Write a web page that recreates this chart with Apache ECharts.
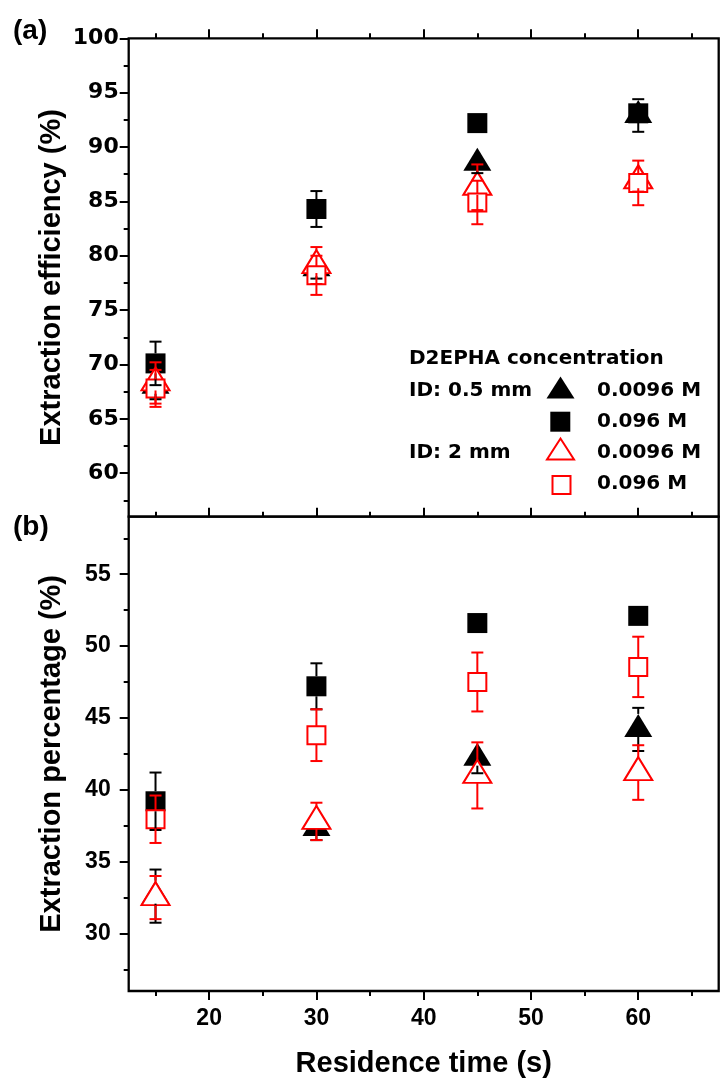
<!DOCTYPE html>
<html>
<head>
<meta charset="utf-8">
<script src="https://cdn.jsdelivr.net/npm/echarts@6/dist/echarts.min.js"></script>
<style>
	html, body { margin: 0; padding: 0; background: #fff; }
	#chart { width: 720px; height: 1079px; }
</style>
</head>
<body>
<div id="chart"></div>
<script>
	var times = [15, 30, 45, 60];

	// (a) extraction efficiency (%)
	var effTriSmall = [68.0, 78.8, 88.5, 92.9];
	var effTriSmallErr = [1.2, 0.9, 0.9, 1.5];
	var effSqSmall = [70.1, 84.3, 92.2, 93.1];
	var effSqSmallErr = [2.0, 1.65, 0.3, 0.3];
	var effTriLarge = [68.3, 79.1, 86.3, 86.9];
	var effTriLargeErr = [1.9, 1.7, 2.1, 1.0];
	var effSqLarge = [67.8, 78.2, 84.9, 86.7];
	var effSqLargeErr = [1.7, 1.8, 2.0, 2.05];

	// (b) extraction percentage (%)
	var pctTriSmall = [32.6, 37.3, 42.2, 44.2];
	var pctTriSmallErr = [1.85, 0.8, 1.05, 1.5];
	var pctSqSmall = [39.2, 47.2, 51.6, 52.1];
	var pctSqSmallErr = [2.0, 1.6, 0.3, 0.2];
	var pctTriLarge = [32.5, 37.8, 41.0, 41.2];
	var pctTriLargeErr = [1.5, 1.3, 2.3, 1.9];
	var pctSqLarge = [37.95, 43.8, 47.5, 48.55];
	var pctSqLargeErr = [1.65, 1.8, 2.05, 2.1];

	// ticks
	var xMajor = [20, 30, 40, 50, 60];
	var xMinor = [15, 25, 35, 45, 55, 65];
	var yMajorA = [60, 65, 70, 75, 80, 85, 90, 95, 100];
	var yMinorA = [57.5, 62.5, 67.5, 72.5, 77.5, 82.5, 87.5, 92.5, 97.5];
	var yMajorB = [30, 35, 40, 45, 50, 55];
	var yMinorB = [27.5, 32.5, 37.5, 42.5, 47.5, 52.5, 57.5];

	var FONT = '"Liberation Sans", Arial, sans-serif';
	var FONT_WIDE = '"DejaVu Sans", sans-serif';
	var TRI = [28, 23];

	function tickAxis(grid, pos, values, len, extra) {
		var ax = {
			type: 'value', gridIndex: grid, position: pos,
			axisLine: { show: false },
			splitLine: { show: false },
			axisTick: { show: true, inside: false, length: len, customValues: values, lineStyle: { color: '#000', width: 2 } },
			axisLabel: { show: false }
		};
		for (var k in extra) ax[k] = extra[k];
		return ax;
	}

	function markSeries(ys, xi, yi, shape, filled, color) {
		var tri = shape === 'triangle';
		return {
			type: 'scatter', xAxisIndex: xi, yAxisIndex: yi,
			symbol: tri ? 'triangle' : 'rect',
			symbolSize: tri ? TRI : (filled ? 20 : 18),
			symbolOffset: tri ? [0, -4] : [0, 0],
			itemStyle: filled ? { color: color, opacity: 1 } : { color: '#fff', borderColor: color, borderWidth: 2, opacity: 1 },
			data: times.map(function(t, i) { return [t, ys[i]]; }),
			z: 2, silent: true, emphasis: { disabled: true }
		};
	}

	//error bars, with a gap where the own symbol is
	function errSeries(ys, es, xi, yi, color, gapUp, gapDown) {
		return {
			type: 'custom', xAxisIndex: xi, yAxisIndex: yi, z: 3, silent: true,
			data: times.map(function(t, i) { return [t, ys[i], es[i]]; }),
			encode: { x: 0, y: 1 },
			renderItem: function(params, api) {
				var x = api.value(0), y = api.value(1), e = api.value(2);
				var c = api.coord([x, y]);
				var hi = api.coord([x, y + e]);
				var lo = api.coord([x, y - e]);
				var st = { stroke: color, lineWidth: 2 };
				var kids = [];
				if (hi[1] < c[1] - gapUp) {
					kids.push({ type: 'line', shape: { x1: c[0], y1: c[1] - gapUp, x2: c[0], y2: hi[1] }, style: st });
					kids.push({ type: 'line', shape: { x1: c[0] - 6, y1: hi[1], x2: c[0] + 6, y2: hi[1] }, style: st });
				}
				if (lo[1] > c[1] + gapDown) {
					kids.push({ type: 'line', shape: { x1: c[0], y1: c[1] + gapDown, x2: c[0], y2: lo[1] }, style: st });
					kids.push({ type: 'line', shape: { x1: c[0] - 6, y1: lo[1], x2: c[0] + 6, y2: lo[1] }, style: st });
				}
				return { type: 'group', children: kids };
			}
		};
	}

	function txt(text, x, y, font) {
		return {
			type: 'text', left: null, silent: true, z: 10,
			style: { text: text, x: x, y: y, font: font, fill: '#000', align: 'left', textAlign: 'left', verticalAlign: 'middle', textVerticalAlign: 'middle' }
		};
	}

	var legendFont = 'bold 20px ' + FONT_WIDE;

	var option = {
		animation: false,
		backgroundColor: '#fff',
		grid: [
			{ left: 128.7, top: 38.3, width: 590, height: 478.4, show: true, borderColor: '#000', borderWidth: 2.3, backgroundColor: 'transparent', outerBoundsMode: 'none', containLabel: false },
			{ left: 128.7, top: 516.7, width: 590, height: 474.3, show: true, borderColor: '#000', borderWidth: 2.3, backgroundColor: 'transparent', outerBoundsMode: 'none', containLabel: false }
		],
		xAxis: [
			tickAxis(0, 'top', xMajor, 9, { min: 12.5, max: 67.5 }),
			tickAxis(0, 'top', xMinor, 5, { min: 12.5, max: 67.5 }),
			tickAxis(1, 'bottom', xMajor, 9, {
				min: 12.5, max: 67.5,
				axisLabel: { show: true, customValues: xMajor, margin: 16, color: '#000', fontFamily: FONT, fontWeight: 'bold', fontSize: 23 },
				name: 'Residence time (s)', nameLocation: 'middle', nameGap: 58, nameMoveOverlap: false,
				nameTextStyle: { color: '#000', fontFamily: FONT, fontWeight: 'bold', fontSize: 29 }
			}),
			tickAxis(1, 'bottom', xMinor, 5, { min: 12.5, max: 67.5 }),
			tickAxis(1, 'top', xMajor, 9, { min: 12.5, max: 67.5 }),
			tickAxis(1, 'top', xMinor, 5, { min: 12.5, max: 67.5 })
		],
		yAxis: [
			tickAxis(0, 'left', yMajorA, 9, {
				min: 56, max: 100,
				axisLabel: { show: true, customValues: yMajorA, margin: 10, color: '#000', fontFamily: FONT_WIDE, fontWeight: 'bold', fontSize: 22 },
				name: 'Extraction efficiency (%)', nameLocation: 'middle', nameGap: 62, nameMoveOverlap: false,
				nameTextStyle: { color: '#000', fontFamily: FONT, fontWeight: 'bold', fontSize: 29 }
			}),
			tickAxis(0, 'left', yMinorA, 5, { min: 56, max: 100 }),
			tickAxis(1, 'left', yMajorB, 9, {
				min: 26, max: 59,
				axisLabel: { show: true, customValues: yMajorB, margin: 18, color: '#000', fontFamily: FONT, fontWeight: 'bold', fontSize: 23 },
				name: 'Extraction percentage (%)', nameLocation: 'middle', nameGap: 62, nameMoveOverlap: false,
				nameTextStyle: { color: '#000', fontFamily: FONT, fontWeight: 'bold', fontSize: 29 }
			}),
			tickAxis(1, 'left', yMinorB, 5, { min: 26, max: 59 })
		],
		series: [
			markSeries(effTriSmall, 0, 0, 'triangle', true, '#000'),
			markSeries(effSqSmall, 0, 0, 'rect', true, '#000'),
			markSeries(effTriLarge, 0, 0, 'triangle', false, '#ff0000'),
			markSeries(effSqLarge, 0, 0, 'rect', false, '#ff0000'),
			errSeries(effTriSmall, effTriSmallErr, 0, 0, '#000', 15.5, 7.5),
			errSeries(effSqSmall, effSqSmallErr, 0, 0, '#000', 10, 10),
			errSeries(effTriLarge, effTriLargeErr, 0, 0, '#ff0000', 15.5, 7.5),
			errSeries(effSqLarge, effSqLargeErr, 0, 0, '#ff0000', 9, 9),

			markSeries(pctTriSmall, 2, 2, 'triangle', true, '#000'),
			markSeries(pctSqSmall, 2, 2, 'rect', true, '#000'),
			markSeries(pctTriLarge, 2, 2, 'triangle', false, '#ff0000'),
			markSeries(pctSqLarge, 2, 2, 'rect', false, '#ff0000'),
			errSeries(pctTriSmall, pctTriSmallErr, 2, 2, '#000', 15.5, 7.5),
			errSeries(pctSqSmall, pctSqSmallErr, 2, 2, '#000', 10, 10),
			errSeries(pctTriLarge, pctTriLargeErr, 2, 2, '#ff0000', 15.5, 7.5),
			errSeries(pctSqLarge, pctSqLargeErr, 2, 2, '#ff0000', 9, 9)
		],
		graphic: [
			txt('(a)', 13, 31.5, 'bold 28px ' + FONT),
			txt('(b)', 13, 527, 'bold 28px ' + FONT),
			txt('D2EPHA concentration', 409, 359, legendFont),
			txt('ID: 0.5 mm', 409, 391, legendFont),
			txt('ID: 2 mm', 409, 453, legendFont),
			txt('0.0096 M', 597, 391, legendFont),
			txt('0.096 M', 597, 422, legendFont),
			txt('0.0096 M', 597, 453, legendFont),
			txt('0.096 M', 597, 484, legendFont),
			{ type: 'polygon', silent: true, z: 10, shape: { points: [[546.5, 398.5], [574.5, 398.5], [560.5, 376.5]] }, style: { fill: '#000' } },
			{ type: 'rect', silent: true, z: 10, shape: { x: 550.3, y: 411.7, width: 20, height: 20 }, style: { fill: '#000' } },
			{ type: 'polygon', silent: true, z: 10, shape: { points: [[547, 459.5], [574, 459.5], [560.5, 438.5]] }, style: { fill: 'none', stroke: '#ff0000', lineWidth: 2 } },
			{ type: 'rect', silent: true, z: 10, shape: { x: 552.5, y: 476, width: 18, height: 18 }, style: { fill: 'none', stroke: '#ff0000', lineWidth: 2 } }
		]
	};

	echarts.init(document.getElementById('chart')).setOption(option);
</script>
</body>
</html>
